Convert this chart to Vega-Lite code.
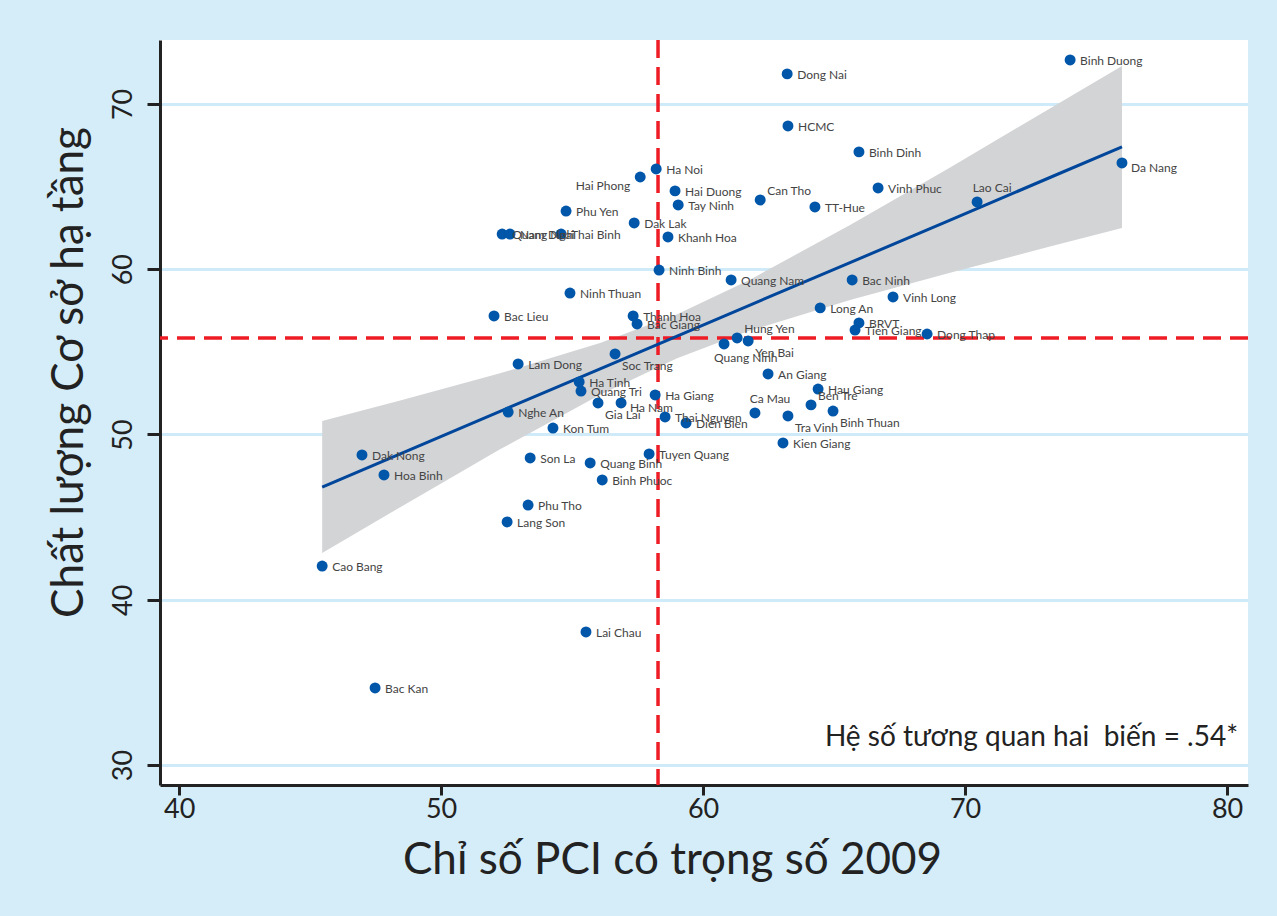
{
  "$schema": "https://vega.github.io/schema/vega-lite/v6.json",
  "width": 1088,
  "height": 745,
  "autosize": {"type": "none"},
  "padding": {"left": 160, "top": 40, "right": 29, "bottom": 131},
  "background": "#d4edf9",
  "view": {"fill": "white", "stroke": null},
  "config": {
    "font": "Lato",
    "axis": {
      "domainColor": "#222222", "domainWidth": 3, "tickColor": "#222222", "tickWidth": 3, "tickSize": 13,
      "labelFont": "Lato", "labelFontSize": 27, "labelColor": "#222222",
      "titleFont": "Lato", "titleFontSize": 44, "titleFontWeight": "normal", "titleColor": "#222222"
    }
  },
  "datasets": {
    "prov": [
      {"name": "Binh Duong", "pci": 74.01, "infra": 72.66},
      {"name": "Dong Nai", "pci": 63.21, "infra": 71.82},
      {"name": "HCMC", "pci": 63.24, "infra": 68.67},
      {"name": "Binh Dinh", "pci": 65.95, "infra": 67.10},
      {"name": "Da Nang", "pci": 75.99, "infra": 66.43},
      {"name": "Ha Noi", "pci": 58.21, "infra": 66.07},
      {"name": "Hai Phong", "pci": 57.60, "infra": 65.58},
      {"name": "Vinh Phuc", "pci": 66.68, "infra": 64.92},
      {"name": "Hai Duong", "pci": 58.93, "infra": 64.74},
      {"name": "Can Tho", "pci": 62.18, "infra": 64.19},
      {"name": "Lao Cai", "pci": 70.46, "infra": 64.07},
      {"name": "Tay Ninh", "pci": 59.05, "infra": 63.89},
      {"name": "TT-Hue", "pci": 64.27, "infra": 63.77},
      {"name": "Phu Yen", "pci": 54.77, "infra": 63.52},
      {"name": "Dak Lak", "pci": 57.37, "infra": 62.80},
      {"name": "Khanh Hoa", "pci": 58.66, "infra": 61.95},
      {"name": "Quang Ngai", "pci": 52.33, "infra": 62.13},
      {"name": "Nam Dinh", "pci": 52.63, "infra": 62.13},
      {"name": "Thai Binh", "pci": 54.58, "infra": 62.13},
      {"name": "Ninh Binh", "pci": 58.32, "infra": 59.95},
      {"name": "Quang Nam", "pci": 61.07, "infra": 59.35},
      {"name": "Bac Ninh", "pci": 65.69, "infra": 59.35},
      {"name": "Ninh Thuan", "pci": 54.92, "infra": 58.56},
      {"name": "Vinh Long", "pci": 67.25, "infra": 58.32},
      {"name": "Long An", "pci": 64.47, "infra": 57.66},
      {"name": "Bac Lieu", "pci": 52.02, "infra": 57.17},
      {"name": "Thanh Hoa", "pci": 57.33, "infra": 57.17},
      {"name": "BRVT", "pci": 65.95, "infra": 56.75},
      {"name": "Bac Giang", "pci": 57.48, "infra": 56.69},
      {"name": "Tien Giang", "pci": 65.80, "infra": 56.32},
      {"name": "Dong Thap", "pci": 68.55, "infra": 56.08},
      {"name": "Hung Yen", "pci": 61.30, "infra": 55.84},
      {"name": "Yen Bai", "pci": 61.72, "infra": 55.66},
      {"name": "Quang Ninh", "pci": 60.80, "infra": 55.48},
      {"name": "Soc Trang", "pci": 56.64, "infra": 54.87},
      {"name": "Lam Dong", "pci": 52.94, "infra": 54.27},
      {"name": "An Giang", "pci": 62.48, "infra": 53.66},
      {"name": "Ha Tinh", "pci": 55.27, "infra": 53.18},
      {"name": "Quang Tri", "pci": 55.34, "infra": 52.63},
      {"name": "Hau Giang", "pci": 64.39, "infra": 52.75},
      {"name": "Ha Giang", "pci": 58.17, "infra": 52.39},
      {"name": "Ben Tre", "pci": 64.12, "infra": 51.79},
      {"name": "Gia Lai", "pci": 55.99, "infra": 51.91},
      {"name": "Ha Nam", "pci": 56.87, "infra": 51.91},
      {"name": "Binh Thuan", "pci": 64.96, "infra": 51.42},
      {"name": "Nghe An", "pci": 52.56, "infra": 51.36},
      {"name": "Ca Mau", "pci": 61.98, "infra": 51.30},
      {"name": "Thai Nguyen", "pci": 58.55, "infra": 51.06},
      {"name": "Tra Vinh", "pci": 63.24, "infra": 51.12},
      {"name": "Dien Bien", "pci": 59.35, "infra": 50.70},
      {"name": "Kon Tum", "pci": 54.27, "infra": 50.39},
      {"name": "Kien Giang", "pci": 63.05, "infra": 49.49},
      {"name": "Dak Nong", "pci": 46.98, "infra": 48.76},
      {"name": "Tuyen Quang", "pci": 57.94, "infra": 48.82},
      {"name": "Son La", "pci": 53.40, "infra": 48.58},
      {"name": "Quang Binh", "pci": 55.69, "infra": 48.28},
      {"name": "Hoa Binh", "pci": 47.82, "infra": 47.55},
      {"name": "Binh Phuoc", "pci": 56.15, "infra": 47.25},
      {"name": "Phu Tho", "pci": 53.32, "infra": 45.73},
      {"name": "Lang Son", "pci": 52.52, "infra": 44.71},
      {"name": "Cao Bang", "pci": 45.46, "infra": 42.04},
      {"name": "Lai Chau", "pci": 55.53, "infra": 38.05},
      {"name": "Bac Kan", "pci": 47.48, "infra": 34.66}
    ],
    "band": [
      {"pci": 45.46, "fit": 46.82, "lo": 42.83, "hi": 50.81},
      {"pci": 48.44, "fit": 48.83, "lo": 45.60, "hi": 52.06},
      {"pci": 52.25, "fit": 51.40, "lo": 49.10, "hi": 53.70},
      {"pci": 56.07, "fit": 53.97, "lo": 52.41, "hi": 55.53},
      {"pci": 59.01, "fit": 55.95, "lo": 54.62, "hi": 57.28},
      {"pci": 61.79, "fit": 57.83, "lo": 56.29, "hi": 59.37},
      {"pci": 65.61, "fit": 60.40, "lo": 58.13, "hi": 62.67},
      {"pci": 69.43, "fit": 62.97, "lo": 59.79, "hi": 66.15},
      {"pci": 73.24, "fit": 65.55, "lo": 61.37, "hi": 69.73},
      {"pci": 75.99, "fit": 67.40, "lo": 62.50, "hi": 72.30}
    ],
    "means": [{"pci": 58.28, "infra": 55.84}],
    "note": [{"pci": 80.42, "infra": 31.63, "text": "Hệ số tương quan hai \u00a0biến = .54*"}]
  },
  "layer": [
    {
      "data": {"name": "band"},
      "mark": {"type": "area", "color": "#d3d4d6"},
      "encoding": {
        "x": {"field": "pci", "type": "quantitative", "title": "Chỉ số PCI có trọng số 2009",
              "scale": {"domain": [39.27, 80.8], "nice": false, "zero": false},
              "axis": {"values": [40, 50, 60, 70, 80], "grid": false, "tickSize": 10, "labelPadding": 1, "titlePadding": 16, "titleX": 512}},
        "y": {"field": "hi", "type": "quantitative", "title": "Chất lượng Cơ sở hạ tầng",
              "scale": {"domain": [28.79, 73.87], "nice": false, "zero": false},
              "axis": {"values": [30, 40, 50, 60, 70], "grid": true, "gridColor": "#cfeaf8", "gridWidth": 3,
                       "labelAngle": 270, "labelAlign": "center", "labelBaseline": "bottom", "labelPadding": 10,
                       "titlePadding": 18, "titleY": 332}},
        "y2": {"field": "lo"}
      }
    },
    {
      "data": {"name": "means"},
      "mark": {"type": "rule", "color": "#ee1c25", "strokeWidth": 3.5, "strokeDash": [18, 9]},
      "encoding": {"x": {"field": "pci", "type": "quantitative", "title": "Chỉ số PCI có trọng số 2009"}}
    },
    {
      "data": {"name": "means"},
      "mark": {"type": "rule", "color": "#ee1c25", "strokeWidth": 3.5, "strokeDash": [18, 9]},
      "encoding": {"y": {"field": "infra", "type": "quantitative", "title": "Chất lượng Cơ sở hạ tầng"}}
    },
    {
      "data": {"name": "band"},
      "mark": {"type": "line", "color": "#00479b", "strokeWidth": 3},
      "encoding": {
        "x": {"field": "pci", "type": "quantitative", "title": "Chỉ số PCI có trọng số 2009"},
        "y": {"field": "fit", "type": "quantitative", "title": "Chất lượng Cơ sở hạ tầng"}
      }
    },
    {
      "data": {"name": "prov"},
      "mark": {"type": "circle", "color": "#0056a8", "opacity": 1, "size": 120},
      "encoding": {
        "x": {"field": "pci", "type": "quantitative", "title": "Chỉ số PCI có trọng số 2009"},
        "y": {"field": "infra", "type": "quantitative", "title": "Chất lượng Cơ sở hạ tầng"}
      }
    },
    {
      "data": {"name": "prov"},
      "transform": [{"filter": {"not": {"field": "name", "oneOf": ["Hai Phong", "Can Tho", "Hung Yen", "Ben Tre", "Lao Cai", "Ca Mau", "Yen Bai", "Soc Trang", "Gia Lai", "Tra Vinh", "Binh Thuan", "Quang Ninh", "Ha Nam", "Da Nang"]}}}],
      "mark": {"type": "text", "align": "left", "baseline": "middle", "dx": 10, "dy": 1, "fontSize": 12, "color": "#444444"},
      "encoding": {
        "x": {"field": "pci", "type": "quantitative", "title": "Chỉ số PCI có trọng số 2009"},
        "y": {"field": "infra", "type": "quantitative", "title": "Chất lượng Cơ sở hạ tầng"},
        "text": {"field": "name"}
      }
    },
    {
      "data": {"name": "prov"},
      "transform": [{"filter": {"field": "name", "oneOf": ["Hai Phong"]}}],
      "mark": {"type": "text", "align": "right", "baseline": "middle", "dx": -10, "dy": 9, "fontSize": 12, "color": "#444444"},
      "encoding": {
        "x": {"field": "pci", "type": "quantitative", "title": "Chỉ số PCI có trọng số 2009"},
        "y": {"field": "infra", "type": "quantitative", "title": "Chất lượng Cơ sở hạ tầng"},
        "text": {"field": "name"}
      }
    },
    {
      "data": {"name": "prov"},
      "transform": [{"filter": {"field": "name", "oneOf": ["Can Tho", "Hung Yen", "Ben Tre"]}}],
      "mark": {"type": "text", "align": "left", "baseline": "middle", "dx": 7, "dy": -9, "fontSize": 12, "color": "#444444"},
      "encoding": {
        "x": {"field": "pci", "type": "quantitative", "title": "Chỉ số PCI có trọng số 2009"},
        "y": {"field": "infra", "type": "quantitative", "title": "Chất lượng Cơ sở hạ tầng"},
        "text": {"field": "name"}
      }
    },
    {
      "data": {"name": "prov"},
      "transform": [{"filter": {"field": "name", "oneOf": ["Lao Cai", "Ca Mau"]}}],
      "mark": {"type": "text", "align": "center", "baseline": "middle", "dx": 15, "dy": -14, "fontSize": 12, "color": "#444444"},
      "encoding": {
        "x": {"field": "pci", "type": "quantitative", "title": "Chỉ số PCI có trọng số 2009"},
        "y": {"field": "infra", "type": "quantitative", "title": "Chất lượng Cơ sở hạ tầng"},
        "text": {"field": "name"}
      }
    },
    {
      "data": {"name": "prov"},
      "transform": [{"filter": {"field": "name", "oneOf": ["Yen Bai", "Soc Trang", "Gia Lai", "Tra Vinh", "Binh Thuan"]}}],
      "mark": {"type": "text", "align": "left", "baseline": "middle", "dx": 7, "dy": 12, "fontSize": 12, "color": "#444444"},
      "encoding": {
        "x": {"field": "pci", "type": "quantitative", "title": "Chỉ số PCI có trọng số 2009"},
        "y": {"field": "infra", "type": "quantitative", "title": "Chất lượng Cơ sở hạ tầng"},
        "text": {"field": "name"}
      }
    },
    {
      "data": {"name": "prov"},
      "transform": [{"filter": {"field": "name", "oneOf": ["Quang Ninh"]}}],
      "mark": {"type": "text", "align": "left", "baseline": "middle", "dx": -10, "dy": 14, "fontSize": 12, "color": "#444444"},
      "encoding": {
        "x": {"field": "pci", "type": "quantitative", "title": "Chỉ số PCI có trọng số 2009"},
        "y": {"field": "infra", "type": "quantitative", "title": "Chất lượng Cơ sở hạ tầng"},
        "text": {"field": "name"}
      }
    },
    {
      "data": {"name": "prov"},
      "transform": [{"filter": {"field": "name", "oneOf": ["Ha Nam", "Da Nang"]}}],
      "mark": {"type": "text", "align": "left", "baseline": "middle", "dx": 9, "dy": 5, "fontSize": 12, "color": "#444444"},
      "encoding": {
        "x": {"field": "pci", "type": "quantitative", "title": "Chỉ số PCI có trọng số 2009"},
        "y": {"field": "infra", "type": "quantitative", "title": "Chất lượng Cơ sở hạ tầng"},
        "text": {"field": "name"}
      }
    },
    {
      "data": {"name": "note"},
      "mark": {"type": "text", "align": "right", "baseline": "middle", "fontSize": 28, "color": "#222222"},
      "encoding": {
        "x": {"field": "pci", "type": "quantitative", "title": "Chỉ số PCI có trọng số 2009"},
        "y": {"field": "infra", "type": "quantitative", "title": "Chất lượng Cơ sở hạ tầng"},
        "text": {"field": "text"}
      }
    }
  ]
}
